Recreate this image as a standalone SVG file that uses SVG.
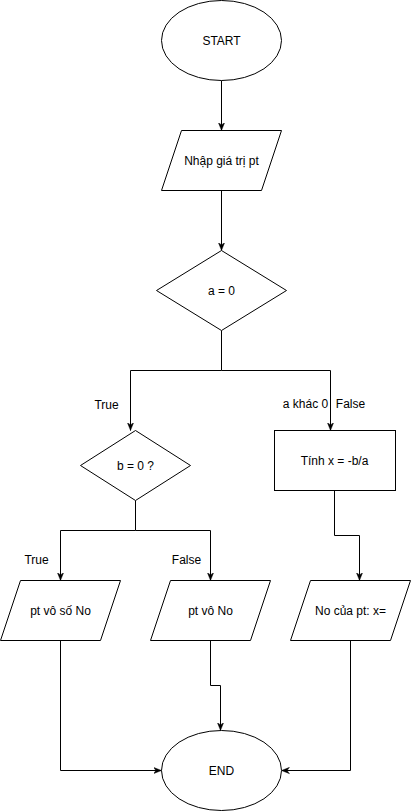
<svg xmlns="http://www.w3.org/2000/svg" width="411" height="811" viewBox="0 0 411 811">
  <style>
    .shape { fill: #ffffff; stroke: #000000; stroke-width: 1; }
    .edge { fill: none; stroke: #000000; stroke-width: 1; }
    text { font-family: "Liberation Sans", Arial, Helvetica, sans-serif; font-size: 12px; fill: #000000; }
    .c { text-anchor: middle; }
  </style>
  <defs>
    <marker id="arrow" viewBox="0 0 10 10" refX="10" refY="5" markerWidth="8" markerHeight="8" markerUnits="userSpaceOnUse" orient="auto">
      <path d="M0,1 L10,5 L0,9 L3,5 Z" fill="#000000" stroke="#000000" stroke-width="0.5"/>
    </marker>
  </defs>
  <rect x="0" y="0" width="411" height="811" fill="#ffffff"/>
  <g transform="translate(0.5,0.5)">
    <!-- connectors -->
    <g id="edges">
      <path class="edge" d="M221,80 L221,130" marker-end="url(#arrow)"/>
      <path class="edge" d="M221,190 L221,250" marker-end="url(#arrow)"/>
      <path class="edge" d="M221,330 L221,370 L130,370 L130,430" marker-end="url(#arrow)"/>
      <path class="edge" d="M221,370 L330,370 L330,430" marker-end="url(#arrow)"/>
      <path class="edge" d="M135,500 L135,530 L60,530 L60,580" marker-end="url(#arrow)"/>
      <path class="edge" d="M135,530 L210,530 L210,580" marker-end="url(#arrow)"/>
      <path class="edge" d="M334,490 L334,535 L359,535 L359,580" marker-end="url(#arrow)"/>
      <path class="edge" d="M60,640 L60,770 L161,770" marker-end="url(#arrow)"/>
      <path class="edge" d="M210,640 L210,685 L220,685 L220,730" marker-end="url(#arrow)"/>
      <path class="edge" d="M350,640 L350,770 L281,770" marker-end="url(#arrow)"/>
      <text x="106" y="408" class="c">True</text>
      <text x="305" y="407" class="c">a khác 0</text>
      <text x="350" y="407" class="c">False</text>
      <text x="36" y="563" class="c">True</text>
      <text x="186" y="563" class="c">False</text>
    </g>
    <!-- nodes -->
    <g id="start">
      <ellipse class="shape" cx="221" cy="40" rx="60" ry="40"/>
      <text x="221" y="44" class="c">START</text>
    </g>
    <g id="input">
      <path class="shape" d="M181,130 L281,130 L261,190 L161,190 Z"/>
      <text x="221" y="164" class="c">Nhập giá trị pt</text>
    </g>
    <g id="check-a">
      <path class="shape" d="M221,250 L286,290 L221,330 L156,290 Z"/>
      <text x="221" y="294" class="c">a = 0</text>
    </g>
    <g id="check-b">
      <path class="shape" d="M135,430 L190,465 L135,500 L80,465 Z"/>
      <text x="135" y="469" class="c">b = 0 ?</text>
    </g>
    <g id="compute">
      <rect class="shape" x="274" y="430" width="121" height="60"/>
      <text x="334" y="464" class="c">Tính x = -b/a</text>
    </g>
    <g id="infinite">
      <path class="shape" d="M20,580 L120,580 L100,640 L0,640 Z"/>
      <text x="60" y="614" class="c">pt vô số No</text>
    </g>
    <g id="none">
      <path class="shape" d="M170,580 L270,580 L250,640 L150,640 Z"/>
      <text x="210" y="614" class="c">pt vô No</text>
    </g>
    <g id="result">
      <path class="shape" d="M310,580 L410,580 L390,640 L290,640 Z"/>
      <text x="350" y="614" class="c">No của pt: x=</text>
    </g>
    <g id="end">
      <ellipse class="shape" cx="221" cy="770" rx="60" ry="40"/>
      <text x="221" y="774" class="c">END</text>
    </g>
  </g>
</svg>
